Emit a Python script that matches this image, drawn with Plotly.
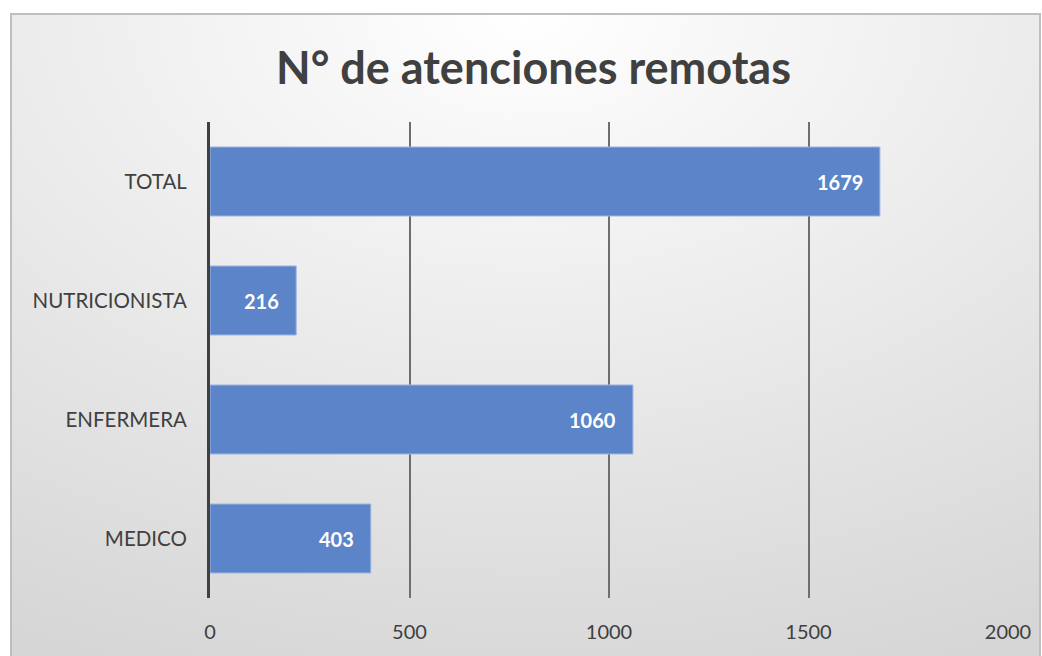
import base64
import plotly.graph_objects as go

categories = ['MEDICO', 'ENFERMERA', 'NUTRICIONISTA', 'TOTAL']
values = [403, 1060, 216, 1679]
tick_vals = [0, 500, 1000, 1500, 2000]
title = 'N° de atenciones remotas'

W, H = 1042, 656
L, R, T, B = 210, 34, 122, 58
pw, ph = W - L - R, H - T - B

# background: radial gradient like the office chart style, plus outer border
svg = f'''<svg xmlns="http://www.w3.org/2000/svg" width="{W}" height="{H}" viewBox="0 0 {W} {H}">
<defs><radialGradient id="g" cx="0.5" cy="0" r="1.05" gradientUnits="objectBoundingBox">
<stop offset="0" stop-color="#ffffff"/><stop offset="1" stop-color="#d6d6d6"/></radialGradient></defs>
<rect x="0" y="0" width="{W}" height="{H}" fill="#ffffff"/>
<rect x="11" y="14" width="1029" height="660" fill="url(#g)" stroke="#bfbfbf" stroke-width="2"/>
</svg>'''
bg = 'data:image/svg+xml;base64,' + base64.b64encode(svg.encode()).decode()

fig = go.Figure(go.Bar(
    x=values, y=categories, orientation='h',
    marker=dict(color='#5b84c9', line=dict(color='#9fb6e2', width=1)),
    width=0.58, hoverinfo='skip',
))

for c, v in zip(categories, values):
    fig.add_annotation(x=v, y=c, text=f'<b>{v}</b>', showarrow=False,
                       xanchor='right', xshift=-15,
                       font=dict(family='Lato', size=20, color='white'))

fig.update_layout(
    width=W, height=H,
    margin=dict(l=L, r=R, t=T, b=B),
    paper_bgcolor='rgba(0,0,0,0)', plot_bgcolor='rgba(0,0,0,0)',
    title=dict(text=f'<b>{title}</b>', x=0.512, xanchor='center', xref='container',
               y=1 - 68 / H, yanchor='middle',
               font=dict(family='Lato', size=45, color='#404040')),
    showlegend=False,
    images=[dict(source=bg, xref='paper', yref='paper',
                 x=-L / pw, y=1 + T / ph, sizex=W / pw, sizey=H / ph,
                 xanchor='left', yanchor='top', sizing='stretch', layer='below')],
    xaxis=dict(range=[0, 2000], tickvals=tick_vals, showgrid=True,
               gridcolor='#6e6e6e', gridwidth=1.5, zeroline=False,
               ticks='', ticklabelstandoff=20,
               tickfont=dict(family='Lato', size=20, color='#404040')),
    yaxis=dict(showline=True, linecolor='#404040', linewidth=3,
               ticks='', ticklabelstandoff=16, showgrid=False,
               tickfont=dict(family='Lato', size=20.5, color='#404040')),
)

fig.write_html('out.html', config={'displayModeBar': False},
               post_script="document.body.style.margin='0';")
